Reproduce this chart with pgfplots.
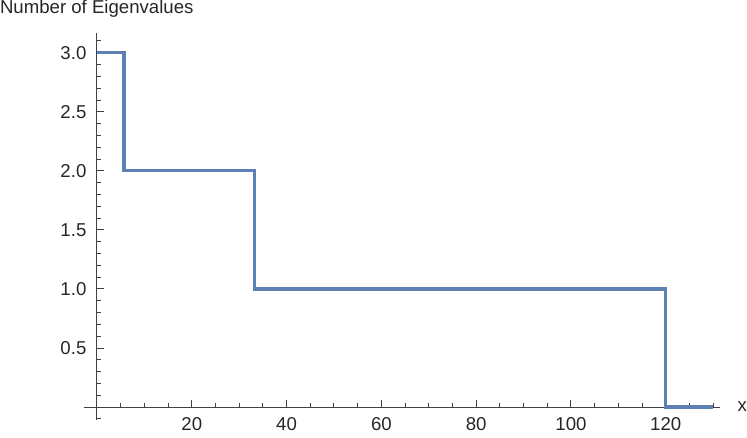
\documentclass[border=0pt]{standalone}
\usepackage{pgfplots}
\pgfplotsset{compat=1.18}
\usepackage{fontspec}
\setmainfont{Liberation Sans}
\definecolor{mmablue}{RGB}{94,129,181}
\begin{document}
\begin{tikzpicture}
\begin{axis}[
  scale only axis, width=318pt, height=193.5pt,
  axis lines=middle, axis line style={black!75, line width=0.5pt, -},
  xmin=-2.8, xmax=131.5, ymin=-0.11, ymax=3.17,
  xtick={20,40,...,120}, ytick={0.5,1.0,...,3.0},
  minor xtick={0,5,...,130},
  minor ytick={-0.1,0,0.1,0.2,0.3,0.4,0.6,0.7,0.8,0.9,1.1,1.2,1.3,1.4,1.6,1.7,1.8,1.9,2.1,2.2,2.3,2.4,2.6,2.7,2.8,2.9,3.1},
  tick align=center,
  major tick length=3.5pt, minor tick length=2pt,
  tick style={black!75, line width=0.5pt},
  major x tick style={yshift=1.75pt}, minor x tick style={yshift=1pt},
  major y tick style={xshift=1.75pt}, minor y tick style={xshift=1pt},
  yticklabel style={/pgf/number format/.cd, fixed, fixed zerofill, precision=1},
  /pgf/number format/assume math mode=true,
  tick label style={font=\fontsize{9.3}{11}\selectfont, text=black!85},
  clip=false]
\addplot[mmablue, line width=1.6pt] coordinates {
  (0,3) (5.7,3) (5.7,2) (33.3,2) (33.3,1) (120,1) (120,0) (130,0)};
\node[anchor=west, font=\fontsize{9.3}{11}\selectfont, text=black!85, inner sep=0pt]
  at (rel axis cs:0,1) [xshift=-42pt, yshift=12pt] {Number of Eigenvalues};
\node[anchor=west, font=\fontsize{9.3}{11}\selectfont, text=black!85, inner sep=0pt]
  at (axis cs:131.5,0) [xshift=8.5pt] {x};
\end{axis}
\end{tikzpicture}
\end{document}
